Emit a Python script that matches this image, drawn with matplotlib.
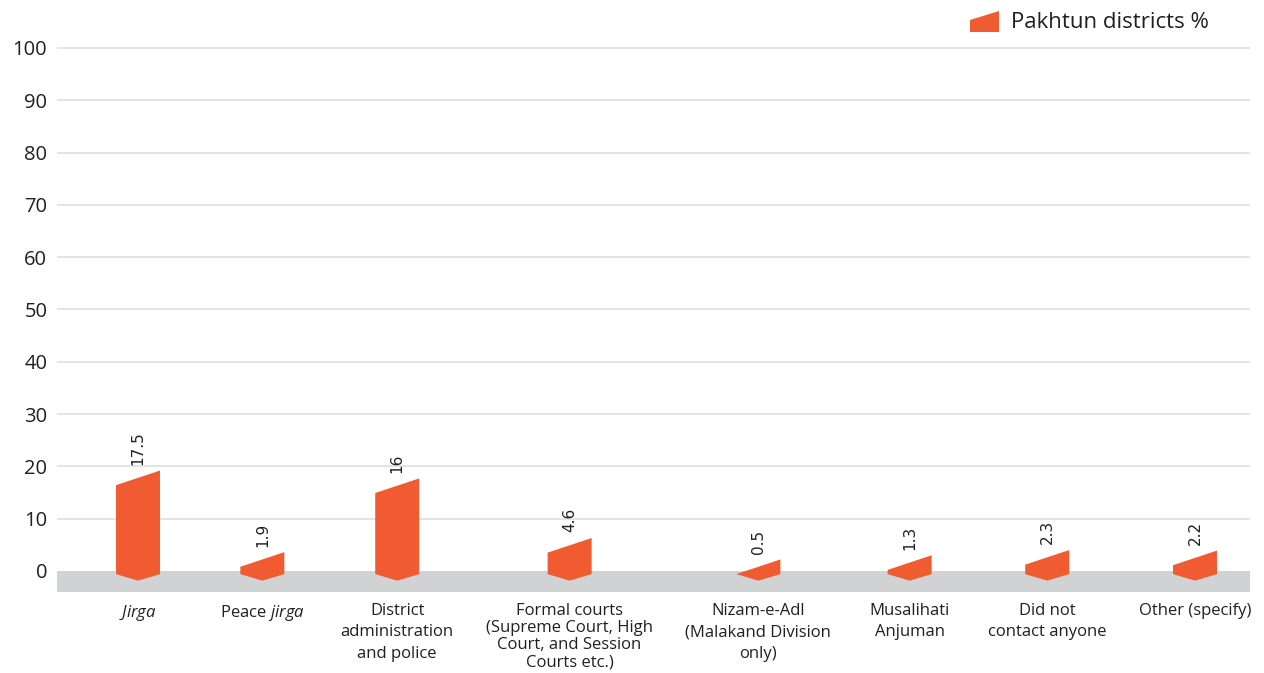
import matplotlib
matplotlib.use("Agg")
import matplotlib.pyplot as plt
from matplotlib.patches import Polygon

# ---- data ----
categories = [
    "$\\mathit{Jirga}$",
    "Peace $\\mathit{jirga}$",
    "District\nadministration\nand police",
    "Formal courts\n(Supreme Court, High\nCourt, and Session\nCourts etc.)",
    "Nizam-e-Adl\n(Malakand Division\nonly)",
    "Musalihati\nAnjuman",
    "Did not\ncontact anyone",
    "Other (specify)",
]
values = [17.5, 1.9, 16, 4.6, 0.5, 1.3, 2.3, 2.2]
value_labels = ["17.5", "1.9", "16", "4.6", "0.5", "1.3", "2.3", "2.2"]
yticks = [0, 10, 20, 30, 40, 50, 60, 70, 80, 90, 100]
series_name = "Pakhtun districts %"

# ---- style ----
BAR = "#f15b31"
TEXT = "#231f20"
GRID = "#dcdcdc"
FLOOR = "#d1d2d4"
# the four-line label is set tighter than the others
label_linespacing = [1.45, 1.45, 1.45, 1.1, 1.45, 1.42, 1.42, 1.45]

plt.rcParams["font.family"] = ["Open Sans", "DejaVu Sans"]
plt.rcParams["mathtext.fontset"] = "custom"
plt.rcParams["mathtext.rm"] = "Open Sans"
plt.rcParams["mathtext.it"] = "Open Sans:italic"

W, H, DPI = 1264, 673, 100
fig = plt.figure(figsize=(W / DPI, H / DPI), dpi=DPI)

ax_left, ax_right, ax_top, ax_bot = 57, 1250, 46.4, 592.4
ax = fig.add_axes([ax_left / W, 1 - ax_bot / H,
                   (ax_right - ax_left) / W, (ax_bot - ax_top) / H])
ax_w = ax_right - ax_left
ax.set_xlim(0, ax_w)
ax.set_ylim(-4.1, 100.3)

for s in ax.spines.values():
    s.set_visible(False)
ax.set_xticks([])
ax.set_yticks(yticks)
ax.set_yticklabels([str(t) for t in yticks], fontsize=14.5, color=TEXT)
ax.tick_params(axis="y", length=0, pad=7)

for t in yticks[1:]:
    ax.axhline(t, color=GRID, lw=1.1, zorder=1)
ax.axhspan(-4.1, 0, color=FLOOR, lw=0, zorder=2)

# ---- category labels, spaced by their own widths ----
label_kw = dict(fontsize=12, color=TEXT, ha="center", va="top",
                xycoords=("data", "axes fraction"),
                textcoords="offset points", xytext=(0, -7.5), zorder=5)
texts = [ax.annotate(c, xy=(0, 0), linespacing=ls, **label_kw)
         for c, ls in zip(categories, label_linespacing)]
renderer = fig.canvas.get_renderer()
widths = [max(t.get_window_extent(renderer).width, 92) for t in texts]

first_c, last_c = 81, 1138
pair = sum((widths[i] + widths[i + 1]) / 2 for i in range(len(widths) - 1))
gap = (last_c - first_c - pair) / (len(widths) - 1)
centers = [first_c]
for i in range(1, len(widths)):
    centers.append(centers[-1] + (widths[i - 1] + widths[i]) / 2 + gap)
for t, c in zip(texts, centers):
    t.xy = (c, 0)

# ---- slanted-top prism bars ----
half = 22
side_bot, tip_bot = -0.6, -1.85
lo, hi = 1.1, 1.7
for c, v, lab in zip(centers, values, value_labels):
    verts = [(c - half, side_bot), (c - half, v - lo), (c + half, v + hi),
             (c + half, side_bot), (c, tip_bot)]
    ax.add_patch(Polygon(verts, closed=True, facecolor=BAR, edgecolor="none",
                         zorder=4))
    ax.annotate(lab, xy=(c, v + hi), xytext=(0, 4), textcoords="offset points",
                rotation=90, ha="center", va="bottom", fontsize=11,
                color=TEXT, family="DejaVu Sans", zorder=5)

# ---- legend ----
def fx(px):
    return px / W

def fy(py):
    return 1 - py / H

icon = [(fx(970), fy(32)), (fx(970), fy(20)), (fx(999), fy(11)), (fx(999), fy(32))]
fig.patches.append(Polygon(icon, closed=True, facecolor=BAR, edgecolor="none",
                           transform=fig.transFigure, figure=fig))
fig.text(fx(1011), fy(23), series_name, fontsize=16, color=TEXT,
         ha="left", va="center")

fig.savefig("out.png", dpi=DPI)
